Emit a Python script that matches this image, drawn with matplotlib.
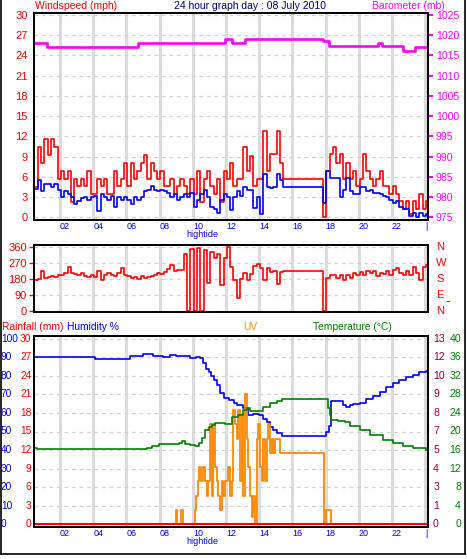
import matplotlib
matplotlib.use("Agg")
import matplotlib.pyplot as plt
import matplotlib.lines as mlines
import numpy as np

plt.rcParams['font.family'] = ['Liberation Sans', 'DejaVu Sans']

W, H = 467, 559

# ---------------- data ----------------
# wind readings, one every 0.2 h starting 00:27
t_start = 0.45
t_step = 0.2

gust = [
    4.5, 10.4, 8.0, 11.6, 9.2,
    11.6, 10.4, 5.75, 6.9, 5.75,
    6.9, 2.3, 5.75, 4.6, 5.75,
    4.6, 6.9, 3.5, 3.5, 5.75,
    4.6, 5.75, 3.5, 3.5, 6.9,
    4.6, 5.75, 8.0, 4.6, 8.0,
    5.75, 6.9, 8.0, 9.2, 5.75,
    8.0, 6.9, 5.75, 6.9, 4.6,
    4.6, 5.75, 3.5, 4.6, 5.75,
    4.6, 3.5, 5.75, 3.5, 6.9,
    2.3, 5.75, 6.9, 4.6, 3.5,
    5.75, 2.3, 6.9, 5.75, 8.0,
    4.6, 5.75, 5.75, 10.4, 6.9,
    9.1, 4.6, 5.75, 5.75, 12.75,
    6.9, 9.4, 9.4, 12.75, 8.0,
    5.75, 5.75, 5.75, 5.75, 5.75,
    5.75, 5.75, 5.75, 5.75, 5.75,
    5.75, 5.75, 0.0, 6.9, 9.4,
    10.4, 8.0, 9.4, 5.75, 8.0,
    5.75, 6.9, 4.6, 5.75, 9.4,
    6.9, 5.75, 4.6, 5.75, 6.9,
    4.6, 4.6, 3.5, 4.6, 3.5,
    2.4, 1.2, 2.4, 0.5, 2.4,
    1.2, 3.5, 1.2, 2.4, 2.4,
]

avg = [
    4.2, 5.6, 3.9, 5.0, 5.0,
    4.5, 5.0, 4.1, 3.0, 3.9,
    3.4, 3.0, 1.9, 2.4, 2.9,
    3.0, 2.6, 3.0, 3.1, 0.9,
    3.4, 3.0, 2.6, 3.1, 1.5,
    3.0, 2.6, 3.0, 2.6, 1.9,
    3.0, 2.6, 3.0, 3.9, 4.1,
    4.6, 4.1, 3.9, 4.1, 3.9,
    3.6, 3.0, 3.4, 2.6, 3.0,
    3.4, 3.0, 3.6, 1.6, 2.6,
    3.4, 4.1, 3.0, 1.6, 1.2,
    0.6, 2.6, 3.4, 3.0, 1.1,
    3.0, 3.9, 3.2, 4.5, 4.1,
    4.1, 1.4, 3.0, 0.55, 6.4,
    4.5, 4.4, 4.5, 6.4, 5.6,
    4.55, 4.55, 4.55, 4.55, 4.55,
    4.55, 4.55, 4.55, 4.55, 4.55,
    4.55, 4.55, 2.1, 6.9, 5.9,
    5.9, 5.9, 3.0, 4.1, 5.9,
    3.9, 3.4, 3.4, 4.5, 4.5,
    3.9, 4.1, 3.6, 3.6, 3.4,
    3.2, 3.0, 2.6, 2.1, 2.4,
    1.6, 1.3, 1.2, 0.15, 0.65,
    0.05, 0.65, 0.15, 0.5, 0.5,
]

wdir = [
    175, 180, 222, 185, 190,
    195, 190, 200, 205, 215,
    250, 215, 210, 205, 215,
    195, 190, 200, 190, 222,
    175, 205, 213, 205, 195,
    215, 240, 200, 195, 185,
    190, 180, 195, 185, 190,
    195, 205, 215, 210, 220,
    235, 260, 225, 230, 232,
    320, 0, 350, 0, 355,
    0, 345, 155, 330, 300,
    320, 145, 300, 360, 250,
    175, 75, 180, 215, 172,
    210, 252, 262, 244, 172,
    244, 217, 226, 154, 217,
    226, 226, 226, 226, 226,
    226, 226, 226, 226, 226,
    226, 226, 0, 185, 200,
    200, 185, 205, 175, 200,
    185, 215, 200, 220, 205,
    225, 215, 225, 195, 215,
    210, 225, 200, 230, 240,
    215, 200, 225, 205, 245,
    215, 175, 250, 260, 260,
]

baro_t = [0.43, 1.22, 6.70, 11.94, 12.36, 13.14, 17.84, 18.20, 21.16, 21.40, 22.66, 23.39, 24.17]
baro = [1018.2, 1017.2, 1018.2, 1019.0, 1018.2, 1019.0, 1018.7, 1017.4, 1018.2, 1017.4, 1016.0, 1017.2, 1017.2]

hum_t = [0.43, 4.1, 6.2, 7.0, 7.6, 8.2, 8.6, 9.0, 9.8, 10.2, 10.45, 10.6, 10.8, 10.95,
         11.1, 11.25, 11.45, 11.65, 11.85, 12.2, 12.5, 12.65, 13.05, 13.3, 13.65, 14.0,
         14.25, 14.45, 14.65, 14.85, 15.05, 15.35, 18.05, 18.2, 18.35, 19.05, 19.25,
         19.45, 19.65, 20.05, 20.45, 20.85, 21.25, 21.65, 22.05, 22.45, 22.85, 23.25,
         23.65, 24.05, 24.17]
hum = [90, 89, 91, 92, 91, 90, 91.5, 91, 89.5, 90, 89.5, 87, 84, 82,
       80, 78, 75, 71, 68, 67, 65.5, 64.3, 62.5, 59, 59.5, 59,
       57, 55, 52.6, 51, 49, 47.6, 50, 53, 66.7, 64.3, 63,
       64.3, 65, 65.5, 67.6, 69.3, 71.2, 73.9, 76, 78, 79.3, 80.5,
       82, 82.6, 82.6]

temp_t = [0.43, 0.6, 6.95, 7.25, 7.55, 7.95, 8.6, 9.15, 9.35, 9.55, 9.85, 10.15, 10.35,
          10.55, 10.75, 10.95, 11.15, 11.35, 11.95, 12.35, 12.75, 13.05, 13.25, 13.45,
          13.85, 14.25, 14.65, 15.05, 15.35, 18.05, 18.15, 18.25, 18.35, 18.75, 19.15,
          19.45, 20.05, 20.65, 21.45, 22.05, 22.65, 23.25, 24.05]
temp = [16.4, 16.2, 16.2, 16.5, 16.9, 17.3, 17.3, 17.6, 18.0, 17.4, 17.1, 16.9, 17.5,
        18.7, 20.3, 21.0, 21.4, 21.9, 21.7, 23.1, 23.6, 24.7, 25.0, 24.4,
        24.4, 25.3, 26.1, 26.5, 27.0, 27.0, 25.0, 23.5, 22.5, 22.2, 22.0,
        21.2, 20.3, 19.3, 18.2, 17.5, 16.9, 16.4, 16.0]

uv_t = [0.43, 8.99, 9.07, 9.30, 9.40, 10.14, 10.20, 10.34, 10.40, 10.48, 10.64, 10.74,
        10.84, 10.94, 11.04, 11.14, 11.24, 11.34, 11.44, 11.54, 11.64, 11.74, 11.84,
        11.94, 12.14, 12.24, 12.34, 12.45, 12.55, 12.65, 12.75, 12.85, 12.95, 13.05,
        13.15, 13.25, 13.35, 13.45, 13.55, 13.65, 13.75, 13.85, 13.95, 14.05, 14.15,
        14.25, 14.35, 14.45, 14.55, 14.65, 14.75, 14.85, 14.95, 15.26, 17.92, 18.00,
        18.34, 24.17]
uv = [0, 1, 0, 1, 0, 1, 2, 3, 4, 3, 4, 3,
      2, 3, 7, 2, 7, 4, 3, 2, 1, 3, 2,
      3, 4, 2, 3, 8, 7, 6, 8, 3, 7.7, 2,
      9.1, 6, 4, 2, 0.5, 2, 0, 6, 7, 4, 3,
      6, 3, 6, 7, 5, 6, 5, 6, 5, 0, 1,
      0, 0]

rain_t = [0.43, 24.17]
rain = [0, 0]

hours = [2, 4, 6, 8, 10, 12, 14, 16, 18, 20, 22, 24]
hour_labels = ["02", "04", "06", "08", "10", "12", "14", "16", "18", "20", "22", "|"]
hightide = 10.55

speed_ticks = list(range(0, 31, 3))
baro_ticks = list(range(975, 1026, 5))
dir_ticks = [0, 90, 180, 270, 360]
dir_names = ["N", "E", "S", "W", "N"]
hum_ticks = list(range(0, 101, 10))
rain_ticks = list(range(0, 31, 3))
uv_ticks = [0, 1, 3, 4, 5, 7, 8, 9, 10, 12, 13]
temp_ticks = list(range(0, 41, 4))

RED = "#ff0000"
BLUE = "#0000ff"
MAG = "#ff00ff"
GREEN = "#008000"
ORANGE = "#ff8800"
UVCOL = "#990033"
NAVY = "#000080"

t_wind = t_start + t_step * np.arange(len(gust))


def box(top, bottom):
    return [34 / W, 1 - bottom / H, 394 / W, (bottom - top) / H]


def frame(ax):
    ax.set_xlim(0.43, 24.17)
    ax.set_xticks(hours)
    ax.grid(axis="x", color="#dcdcdc", lw=2.2)
    ax.grid(axis="y", color="#d2d2d2", lw=0.9, ls=(0, (3, 3)))
    ax.set_axisbelow(True)
    for s in ax.spines.values():
        s.set_linewidth(1.4)
        s.set_color("black")
    ax.tick_params(axis="x", length=0)


def hour_axis(ax, ytide):
    ax.set_xticklabels(hour_labels, color=BLUE, fontsize=6.5)
    for lab in ax.get_xticklabels():
        lab.set_ha("left")
    ax.tick_params(axis="x", pad=1.5)
    ax.text(hightide, ytide, "hightide", color=BLUE, fontsize=6.5,
            ha="center", va="center", transform=ax.get_xaxis_transform())


fig = plt.figure(figsize=(W / 100, H / 100), dpi=100)

# ---------------- panel 1: wind speed + barometer ----------------
ax1 = fig.add_axes(box(13, 220))
frame(ax1)
ax1.set_ylim(-0.4, 30.3)
ax1.set_yticks(speed_ticks)
ax1.tick_params(axis="y", length=0, pad=4.5, labelcolor=RED, labelsize=8)
hour_axis(ax1, -0.07)
ax1.plot(t_wind, gust, color=RED, lw=1.2, drawstyle="steps-post")
ax1.plot(t_wind, avg, color=BLUE, lw=1.2, drawstyle="steps-post")

ax1b = ax1.twinx()
ax1b.set_ylim(974.33, 1025.5)
ax1b.set_yticks(baro_ticks)
ax1b.tick_params(axis="y", colors=MAG, length=3.6, width=1.5, pad=2, labelsize=7.6)
for s in ax1b.spines.values():
    s.set_linewidth(1.4)
    s.set_color("black")
ax1b.plot(baro_t, baro, color=MAG, lw=1.9, drawstyle="steps-post")

fig.text(35 / W, 1 - 6 / H, "Windspeed (mph)", color=RED, fontsize=7.5, ha="left", va="center")
fig.text(249.5 / W, 1 - 6 / H, "24 hour graph day : 08 July 2010", color=NAVY, fontsize=7.5,
         ha="center", va="center")
fig.text(372 / W, 1 - 6 / H, "Barometer (mb)", color=MAG, fontsize=7.5, ha="left", va="center")

# ---------------- panel 2: wind direction ----------------
ax2 = fig.add_axes(box(245, 312))
frame(ax2)
ax2.set_ylim(-6, 371)
ax2.set_yticks(dir_ticks)
ax2.set_xticklabels([])
ax2.tick_params(axis="y", colors=RED, length=3.5, width=1, pad=1.5, labelsize=8)
ax2.plot(t_wind, wdir, color=RED, lw=1.2, drawstyle="steps-post")
for v, name in zip(dir_ticks, dir_names):
    ax2.text(1.021, v, name, color=RED, fontsize=8, ha="left", va="center",
             transform=ax2.get_yaxis_transform())
# small red dash right of the E label
ax2.plot([1.047, 1.053], [56, 56], color=RED, lw=0.8, clip_on=False,
         transform=ax2.get_yaxis_transform())

# ---------------- panel 3: rain, humidity, UV, temperature ----------------
ax3 = fig.add_axes(box(336, 527))
frame(ax3)
ax3.set_ylim(-1.6, 101.6)
ax3.set_yticks(hum_ticks)
ax3.set_yticklabels([])
ax3.tick_params(axis="y", length=0)
hour_axis(ax3, -0.075)
ax3.plot(hum_t, hum, color=BLUE, lw=1.2, drawstyle="steps-post")

ax_uv = ax3.twinx()
ax_uv.set_ylim(-0.208, 13.208)
ax_uv.plot(uv_t, uv, color=ORANGE, lw=1.3, drawstyle="steps-post")

ax_t = ax3.twinx()
ax_t.set_ylim(-0.64, 40.64)
ax_t.plot(temp_t, temp, color=GREEN, lw=1.2, drawstyle="steps-post")

ax_r = ax3.twinx()
ax_r.set_ylim(-0.48, 30.48)
ax_r.plot(rain_t, rain, color=RED, lw=1.5)

for a in (ax_uv, ax_t, ax_r):
    a.set_yticks([])
    for s in a.spines.values():
        s.set_linewidth(1.4)
        s.set_color("black")

ytr = ax3.get_yaxis_transform()
for h_, r_, u_, t_ in zip(hum_ticks, rain_ticks, uv_ticks, temp_ticks):
    ax3.text(-0.084, h_, str(h_), color=BLUE, fontsize=7.3, ha="left", va="center", transform=ytr)
    ax3.text(-0.007, h_, str(r_), color=RED, fontsize=7.3, ha="right", va="center", transform=ytr)
    ax3.text(1.013, h_, str(u_), color=UVCOL, fontsize=7.6, ha="left", va="center", transform=ytr)
    ax3.text(1.084, h_, str(t_), color=GREEN, fontsize=7.6, ha="right", va="center", transform=ytr)

fig.text(1.5 / W, 1 - 327 / H, "Rainfall (mm)", color=RED, fontsize=7.4, ha="left", va="center")
fig.text(67 / W, 1 - 327 / H, "Humidity %", color=BLUE, fontsize=7.4, ha="left", va="center")
fig.text(243 / W, 1 - 327 / H, "UV", color=ORANGE, fontsize=7.4, ha="left", va="center")
fig.text(313 / W, 1 - 327 / H, "Temperature (\u00b0C)", color=GREEN, fontsize=7.4, ha="left", va="center")

# outer frame
yb = 1 - 553.5 / H
fig.add_artist(mlines.Line2D([0.8 / W, 0.8 / W], [yb, 1], color="black", lw=1.2, transform=fig.transFigure))
fig.add_artist(mlines.Line2D([0, 464.5 / W], [yb, yb], color="black", lw=1.2, transform=fig.transFigure))
fig.add_artist(mlines.Line2D([464.5 / W, 464.5 / W], [yb, 1], color="black", lw=1.2, transform=fig.transFigure))

fig.savefig("out.png", dpi=100)
